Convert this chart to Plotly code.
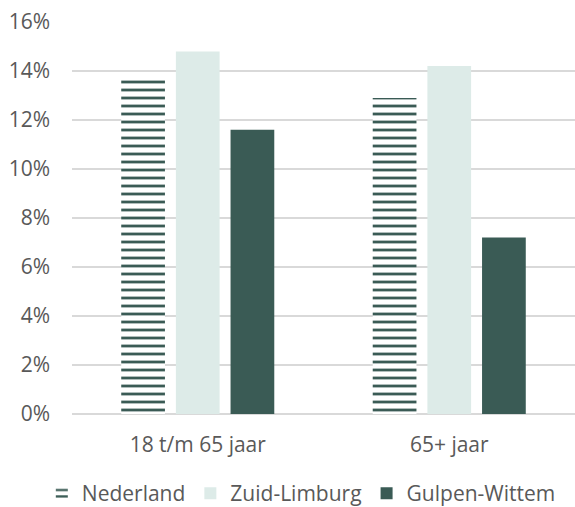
import plotly.graph_objects as go

categories = ["18 t/m 65 jaar", "65+ jaar"]
nederland = [13.8, 12.9]
zuid_limburg = [14.8, 14.2]
gulpen_wittem = [11.6, 7.2]
tick_vals = [0, 2, 4, 6, 8, 10, 12, 14, 16]
tick_text = ["0%", "2%", "4%", "6%", "8%", "10%", "12%", "14%", "16%"]

dark = "#3A5B55"
light = "#DDEBE8"

fig = go.Figure()
fig.add_trace(go.Bar(
    name="Nederland", x=categories, y=nederland,
    marker=dict(color="white", line=dict(width=0),
                pattern=dict(shape="-", fgcolor=dark, bgcolor="white", size=8,
                             solidity=0.35, fgopacity=1)),
))
fig.add_trace(go.Bar(
    name="Zuid-Limburg", x=categories, y=zuid_limburg,
    marker=dict(color=light, line=dict(width=0)),
))
fig.add_trace(go.Bar(
    name="Gulpen-Wittem", x=categories, y=gulpen_wittem,
    marker=dict(color=dark, line=dict(width=0)),
))

fig.update_layout(
    width=575, height=507,
    margin=dict(l=72, r=0, t=22, b=93, autoexpand=False),
    paper_bgcolor="white", plot_bgcolor="white",
    barmode="group", bargap=0.348, bargroupgap=0.2,
    font=dict(family="Open Sans", size=21, color="#595959"),
    legend=dict(orientation="h", x=-0.06, xanchor="left", y=-0.203, yanchor="middle",
                font=dict(size=21, color="#595959"), traceorder="normal",
                itemwidth=30, tracegroupgap=0),
    showlegend=True,
)
fig.update_yaxes(range=[0, 16], tickvals=tick_vals, ticktext=tick_text,
                 showgrid=True, gridcolor="#D9D9D9", gridwidth=1.5,
                 zeroline=True, zerolinecolor="#D9D9D9", zerolinewidth=1.5,
                 ticks="", ticklabelstandoff=21, showline=False)
fig.update_xaxes(showgrid=False, ticks="", showline=False, ticklabelstandoff=16)

fig.write_html("out.html", config={"displayModeBar": False},
               post_script="document.body.style.margin='0';document.body.style.overflow='hidden';")
